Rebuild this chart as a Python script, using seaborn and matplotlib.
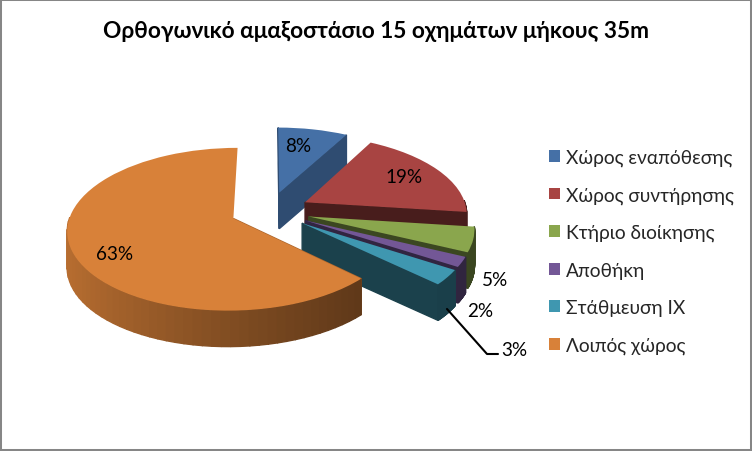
import matplotlib
matplotlib.use('Agg')
import matplotlib.pyplot as plt
from matplotlib.patches import Rectangle
from matplotlib.transforms import Transform
import numpy as np
import seaborn as sns

title = 'Ορθογωνικό αμαξοστάσιο 15 οχημάτων μήκους 35m'
categories = ['Χώρος εναπόθεσης', 'Χώρος συντήρησης', 'Κτήριο διοίκησης',
              'Αποθήκη', 'Στάθμευση ΙΧ', 'Λοιπός χώρος']
values = [8, 19, 5, 2, 3, 63]
slice_colors = ['#4570a6', '#a84442', '#8aa64d', '#735796', '#3f97b0', '#d88139']

sns.set_theme(style='white')
plt.rcParams['font.family'] = ['Lato', 'Open Sans', 'DejaVu Sans']

# pie is flat, this tilts it (unit circle -> pixels)
CX, CY = 269.5, 212
RX, RY, PERSP = 162, 78, 0.13
DEPTH = 36


def project(pts):
    pts = np.atleast_2d(pts)
    s = 1 / (1 + PERSP * pts[:, 1])
    return np.column_stack([CX + RX * pts[:, 0] * s, CY - RY * pts[:, 1] * s])


class Tilt(Transform):
    input_dims = output_dims = 2

    def transform_non_affine(self, values):
        return project(values)


fig = plt.figure(figsize=(7.52, 4.52), dpi=100)
ax = fig.add_axes([0, 0, 1, 1])
palette = sns.color_palette(slice_colors)
wedges, _, autotexts = ax.pie(values, colors=palette, startangle=90, counterclock=False,
                              explode=[0.25, 0.25, 0.25, 0.25, 0.25, 0.24], autopct='%.0f%%', radius=1,
                              textprops={'fontsize': 13.6, 'color': 'black'})
ax.set_aspect('auto')
ax.set_xlim(0, 752)
ax.set_ylim(452, 0)
ax.set_frame_on(False)
tilt = Tilt() + ax.transData


def shade(color, f):
    return tuple(np.array(color) * f)


def extrude(p, q, color, z):
    a, b = project([p, q])
    ax.fill([a[0], b[0], b[0], a[0]], [a[1], b[1], b[1] + DEPTH, a[1] + DEPTH],
            color=color, lw=1, zorder=z)


for i, w in enumerate(wedges):
    z = 2 + i * 3
    c = np.array(w.center)
    t1, t2 = np.radians(w.theta1), np.radians(w.theta2)
    col = palette[i]
    start = c + [np.cos(t1), np.sin(t1)]
    end = c + [np.cos(t2), np.sin(t2)]
    # cut faces
    cut = 0.68 if i == 0 else 0.43
    if i == len(wedges) - 1:
        cut = 0.8
    extrude(c, end if i == len(wedges) - 1 else start, shade(col, cut), z)
    if i == 0:
        extrude(c, end, shade(col, cut), z)
    # outer wall, lighter to the left
    ts = np.linspace(t1, t2, 80)
    for a, b in zip(ts[:-1], ts[1:]):
        m = (a + b) / 2
        if np.sin(m) > 0.02:
            continue
        f = 0.40 + 0.46 * (0.5 - 0.5 * np.cos(m)) ** 1.2 if i == len(wedges) - 1 else 0.42
        extrude(c + [np.cos(a), np.sin(a)], c + [np.cos(b), np.sin(b)], shade(col, f), z)
    w.set_transform(tilt)
    w.set_zorder(z + 1)
    w.set_linewidth(0)

label_pos = [(298, 147), (404, 178), (495, 281), (480, 312), (514, 351), (115, 255)]
for t, pos in zip(autotexts, label_pos):
    t.set_position(pos)
    t.set_zorder(30)

ax.plot([447, 487, 498], [310, 355, 355], color='black', lw=1.5, zorder=25)

ax.text(376, 32, title, fontsize=16.3, fontweight='bold', ha='center', va='center', color='black')

leg = ax.legend(wedges, categories, loc='upper left', bbox_to_anchor=(549 / 752, 1 - 149.5 / 452),
                frameon=False, fontsize=13.8, handlelength=0.58, handleheight=0.58,
                handletextpad=0.3, labelspacing=1.06, borderpad=0, borderaxespad=0)
leg.set_zorder(40)

fig.add_artist(Rectangle((0, 0), 1, 1, transform=fig.transFigure, fill=False,
                         edgecolor='#868686', lw=2.9))
fig.savefig('out.png', dpi=100)
